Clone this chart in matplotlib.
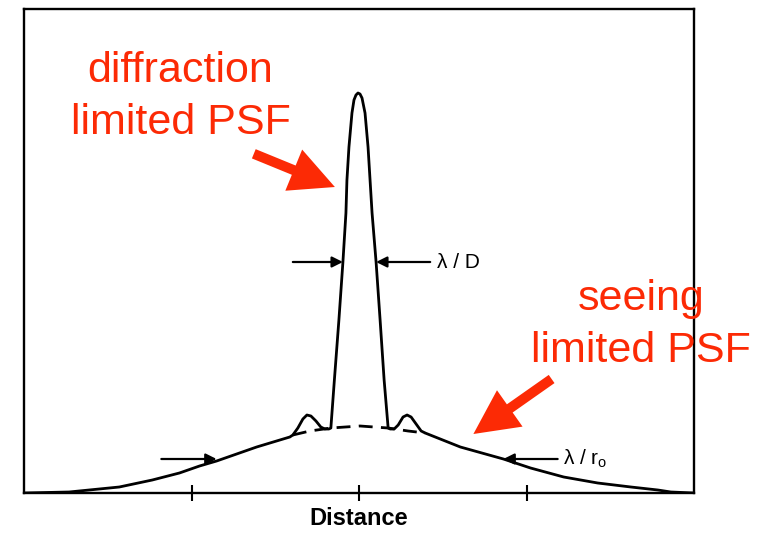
import matplotlib
matplotlib.use("Agg")
import matplotlib.pyplot as plt

# PSF profile (x: distance, y: relative intensity)
x_psf = [-2.0, -1.731, -1.431, -1.234, -1.072, -0.952, -0.850, -0.611, -0.413, -0.395,
         -0.365, -0.335, -0.311, -0.287, -0.257, -0.228, -0.204, -0.180, -0.168,
         -0.147, -0.120, -0.096, -0.078, -0.072, -0.060, -0.042, -0.030, -0.018, -0.006,
         0.006, 0.018, 0.036, 0.054, 0.066, 0.078, 0.102, 0.126, 0.150, 0.174,
         0.186, 0.210, 0.234, 0.263, 0.287, 0.311, 0.341, 0.371, 0.395,
         0.605, 0.862, 1.024, 1.222, 1.425, 1.623, 1.784, 1.862, 2.0]
y_psf = [0.0, 0.0025, 0.015, 0.0325, 0.05, 0.0675, 0.08, 0.115, 0.14, 0.145,
         0.1625, 0.185, 0.195, 0.1925, 0.18, 0.165, 0.16, 0.16, 0.1625,
         0.2825, 0.4325, 0.5775, 0.70, 0.7825, 0.865, 0.95, 0.9825, 0.995, 1.0,
         0.9975, 0.9875, 0.95, 0.865, 0.7825, 0.70, 0.5775, 0.4325, 0.2825, 0.1625,
         0.16, 0.16, 0.17, 0.19, 0.195, 0.19, 0.1725, 0.155, 0.15,
         0.115, 0.085, 0.0625, 0.04, 0.025, 0.015, 0.0075, 0.0025, 0.0]

# seeing profile continued under the core (dashed)
x_seeing = [-0.395, -0.293, -0.168, 0.006, 0.174, 0.293, 0.395]
y_seeing = [0.145, 0.155, 0.1625, 0.1675, 0.1625, 0.155, 0.15]

# width markers
lam_D_y = 0.5775
lam_D_left = (-0.395, -0.096)
lam_D_right = (0.425, 0.102)
lam_r_y = 0.085
lam_r_left = (-1.18, -0.85)
lam_r_right = (1.186, 0.862)

xticks = [-1, 0, 1]
red = "#fc2a05"
fam = ["Liberation Sans", "DejaVu Sans"]

fig = plt.figure(figsize=(7.58, 5.33), dpi=100)
ax = fig.add_axes([24/758, 1-493/533, 670/758, 484/533])
ax.set_xlim(-2.0, 2.0)
ax.set_ylim(0, 1.21)

ax.plot(x_psf, y_psf, color="k", lw=2.0, solid_joinstyle="round")
ax.plot(x_seeing, y_seeing, color="k", lw=2.0, ls=(0, (5, 3)))

for sp in ax.spines.values():
    sp.set_linewidth(1.7)
ax.set_xticks(xticks)
ax.set_xticklabels([])
ax.set_yticks([])
ax.tick_params(axis="x", direction="inout", length=11, width=1.5)
ax.set_xlabel("Distance", fontsize=17, fontweight="bold", family=fam, labelpad=1)

arrow_kw = dict(arrowstyle="-|>", color="k", lw=1.6, mutation_scale=16,
                shrinkA=0, shrinkB=0)
for x0, x1 in [lam_D_left, lam_D_right]:
    ax.annotate("", xy=(x1, lam_D_y), xytext=(x0, lam_D_y), arrowprops=arrow_kw)
for x0, x1 in [lam_r_left, lam_r_right]:
    ax.annotate("", xy=(x1, lam_r_y), xytext=(x0, lam_r_y), arrowprops=arrow_kw)
ax.text(0.467, lam_D_y, "λ / D", fontsize=15, va="center", ha="left", family=fam)
ax.text(1.216, lam_r_y, "λ / r$_\\mathregular{o}$", fontsize=15, va="center", ha="left",
        family=fam)

# red annotations
txt_kw = dict(color=red, fontsize=31, ha="center", va="center", family=fam,
              linespacing=1.38)
ax.text(-1.066, 0.99, "diffraction\nlimited PSF", **txt_kw)
ax.text(1.683, 0.42, "seeing\nlimited PSF", clip_on=False, **txt_kw)

red_kw = dict(arrowstyle="simple,head_length=1.6,head_width=1.6,tail_width=0.36",
              color=red, lw=0, shrinkA=0, shrinkB=0, mutation_scale=20)
ax.annotate("", xy=(-0.144, 0.765), xytext=(-0.628, 0.848), arrowprops=red_kw)
ax.annotate("", xy=(0.683, 0.1475), xytext=(1.150, 0.285), arrowprops=red_kw)

fig.savefig("out.png", dpi=100)
